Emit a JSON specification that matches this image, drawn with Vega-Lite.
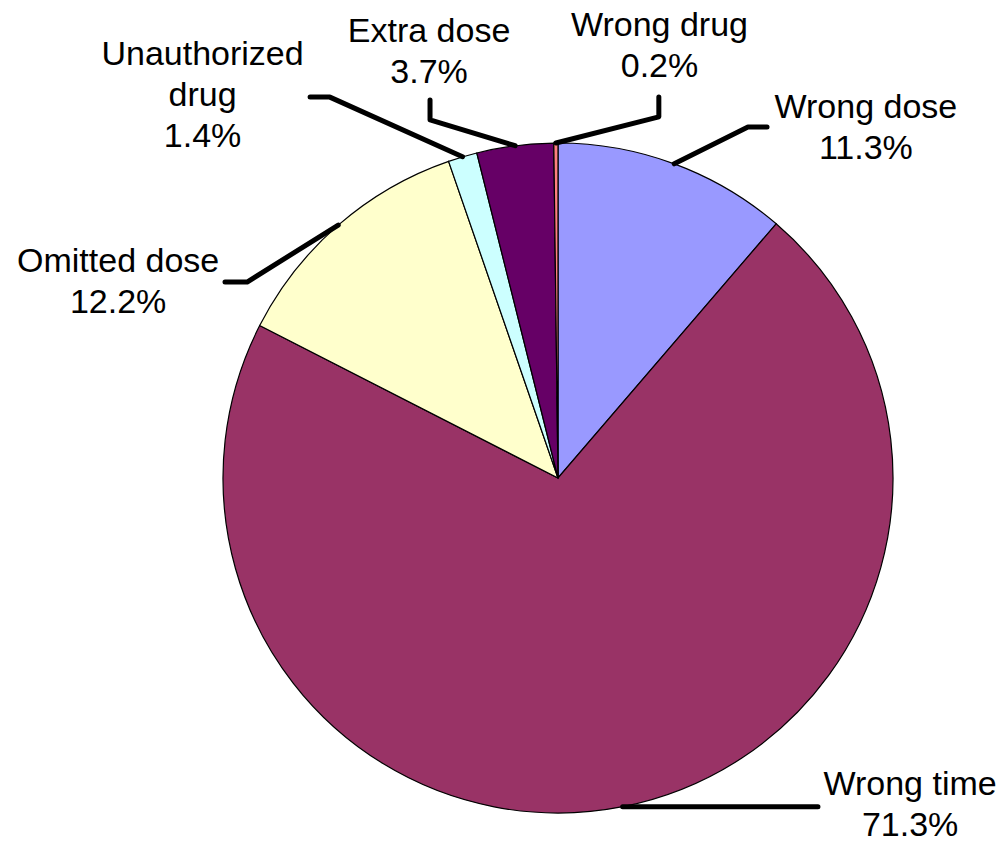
{
  "$schema": "https://vega.github.io/schema/vega-lite/v6.json",
  "width": 670,
  "height": 670,
  "autosize": {"type": "none"},
  "padding": {"left": 223, "top": 143, "right": 112, "bottom": 30},
  "background": "white",
  "config": {"view": {"stroke": null}, "font": "Liberation Sans"},
  "datasets": {
    "slices": [
      {"category": "Wrong dose", "label": "Wrong dose", "value": 11.3, "ord": 1},
      {"category": "Wrong time", "label": "Wrong time", "value": 71.3, "ord": 2},
      {"category": "Omitted dose", "label": "Omitted dose", "value": 12.2, "ord": 3},
      {"category": "Unauthorized drug", "label": "Unauthorized\ndrug", "value": 1.4, "ord": 4},
      {"category": "Extra dose", "label": "Extra dose", "value": 3.7, "ord": 5},
      {"category": "Wrong drug", "label": "Wrong drug", "value": 0.2, "ord": 6}
    ],
    "leaders": [
      {"category": "Wrong dose", "k": 1, "x": 0.347, "y": 0.938},
      {"category": "Wrong dose", "k": 2, "x": 0.567, "y": 1.048},
      {"category": "Wrong dose", "k": 3, "x": 0.624, "y": 1.048},
      {"category": "Wrong time", "k": 1, "x": 0.193, "y": -0.981},
      {"category": "Wrong time", "k": 2, "x": 0.776, "y": -0.981},
      {"category": "Omitted dose", "k": 1, "x": -0.656, "y": 0.755},
      {"category": "Omitted dose", "k": 2, "x": -0.928, "y": 0.585},
      {"category": "Omitted dose", "k": 3, "x": -0.994, "y": 0.585},
      {"category": "Unauthorized drug", "k": 1, "x": -0.285, "y": 0.959},
      {"category": "Unauthorized drug", "k": 2, "x": -0.681, "y": 1.137},
      {"category": "Unauthorized drug", "k": 3, "x": -0.74, "y": 1.137},
      {"category": "Extra dose", "k": 1, "x": -0.128, "y": 0.992},
      {"category": "Extra dose", "k": 2, "x": -0.382, "y": 1.069},
      {"category": "Extra dose", "k": 3, "x": -0.382, "y": 1.128},
      {"category": "Wrong drug", "k": 1, "x": -0.006, "y": 1.0},
      {"category": "Wrong drug", "k": 2, "x": 0.301, "y": 1.078},
      {"category": "Wrong drug", "k": 3, "x": 0.301, "y": 1.137}
    ],
    "callouts": [
      {"category": "Wrong dose", "tx": 0.919, "ty": 1.075},
      {"category": "Wrong time", "tx": 1.051, "ty": -0.946},
      {"category": "Omitted dose", "tx": -1.313, "ty": 0.615},
      {"category": "Unauthorized drug", "tx": -1.061, "ty": 1.233},
      {"category": "Extra dose", "tx": -0.385, "ty": 1.3015},
      {"category": "Wrong drug", "tx": 0.303, "ty": 1.319}
    ]
  },
  "layer": [
    {
      "data": {"name": "slices"},
      "mark": {"type": "arc", "stroke": "black", "strokeWidth": 1.2},
      "encoding": {
        "theta": {"field": "value", "type": "quantitative", "stack": true},
        "order": {"field": "ord", "type": "quantitative"},
        "color": {
          "field": "category",
          "type": "nominal",
          "scale": {
            "domain": ["Wrong dose", "Wrong time", "Omitted dose", "Unauthorized drug", "Extra dose", "Wrong drug"],
            "range": ["#9999FF", "#993366", "#FFFFCC", "#CCFFFF", "#660066", "#FF8080"]
          },
          "legend": null
        }
      }
    },
    {
      "data": {"name": "leaders"},
      "mark": {"type": "line", "color": "black", "strokeWidth": 5, "strokeCap": "round", "strokeJoin": "round"},
      "encoding": {
        "x": {"field": "x", "type": "quantitative", "scale": {"domain": [-1, 1], "nice": false, "zero": false}, "axis": null},
        "y": {"field": "y", "type": "quantitative", "scale": {"domain": [-1, 1], "nice": false, "zero": false}, "axis": null},
        "detail": {"field": "category", "type": "nominal"},
        "order": {"field": "k", "type": "quantitative"}
      }
    },
    {
      "data": {"name": "callouts"},
      "transform": [
        {"lookup": "category", "from": {"data": {"name": "slices"}, "key": "category", "fields": ["label", "value"]}},
        {"calculate": "datum.label + '\\n' + format(datum.value, '.1f') + '%'", "as": "txt"}
      ],
      "mark": {"type": "text", "lineBreak": "\n", "fontSize": 34, "lineHeight": 41, "align": "center", "baseline": "alphabetic", "font": "Liberation Sans", "color": "black"},
      "encoding": {
        "x": {"field": "tx", "type": "quantitative", "scale": {"domain": [-1, 1], "nice": false, "zero": false}, "axis": null},
        "y": {"field": "ty", "type": "quantitative", "scale": {"domain": [-1, 1], "nice": false, "zero": false}, "axis": null},
        "text": {"field": "txt", "type": "nominal"}
      }
    }
  ]
}
